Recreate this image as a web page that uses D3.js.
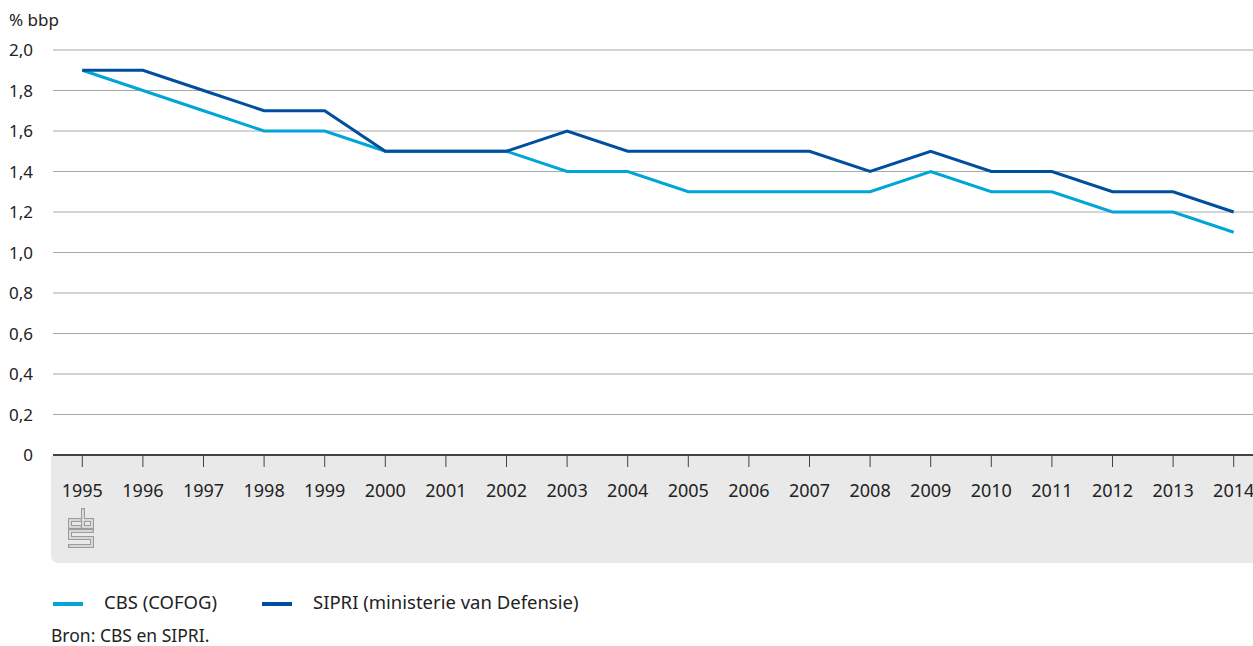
<!DOCTYPE html>
<html>
<head>
<meta charset="utf-8">
<script src="https://cdn.jsdelivr.net/npm/d3@7"></script>
<style>
  body { margin: 0; background: #fff; font-family: "Noto Sans", "Open Sans", sans-serif; }
  svg text { fill: #222; }
</style>
</head>
<body>
<div id="chart"></div>
<script>
const years = ['1995','1996','1997','1998','1999','2000','2001','2002','2003','2004',
               '2005','2006','2007','2008','2009','2010','2011','2012','2013','2014'];
const cbs = [1.9, 1.8, 1.7, 1.6, 1.6, 1.5, 1.5, 1.5, 1.4, 1.4, 1.3, 1.3, 1.3, 1.3, 1.4, 1.3, 1.3, 1.2, 1.2, 1.1];
const sipri = [1.9, 1.9, 1.8, 1.7, 1.7, 1.5, 1.5, 1.5, 1.6, 1.5, 1.5, 1.5, 1.5, 1.4, 1.5, 1.4, 1.4, 1.3, 1.3, 1.2];
const yTicks = [0, 0.2, 0.4, 0.6, 0.8, 1.0, 1.2, 1.4, 1.6, 1.8, 2.0];
const seriesNames = ['CBS (COFOG)', 'SIPRI (ministerie van Defensie)'];
const colors = ['#00a6d6', '#004f9f'];

const width = 1253, height = 646;
const svg = d3.select('#chart').append('svg')
  .attr('width', width).attr('height', height);

const x = d3.scalePoint().domain(years).range([52, 1264]).padding(0.5);
const y = d3.scaleLinear().domain([0, 2]).range([455, 50]);

// grey panel under the axis
svg.append('path')
  .attr('d', 'M51,456 H1253 V563 H59 Q51,563 51,555 Z')
  .attr('fill', '#e9e9e9');

// gridlines
svg.append('g')
  .selectAll('line')
  .data(yTicks.filter(d => d > 0))
  .join('line')
  .attr('x1', 53).attr('x2', width)
  .attr('y1', d => y(d)).attr('y2', d => y(d))
  .attr('stroke', '#a8a8a8').attr('stroke-width', 1);

// y labels
svg.append('g')
  .selectAll('text')
  .data(yTicks)
  .join('text')
  .attr('x', 33).attr('y', d => y(d))
  .attr('dy', '0.36em')
  .attr('text-anchor', 'end')
  .style('font-size', '17px')
  .text(d => d === 0 ? '0' : d.toFixed(1).replace('.', ','));

svg.append('text')
  .attr('x', 9).attr('y', 26)
  .style('font-size', '17px')
  .text('% bbp');

// x axis
svg.append('line')
  .attr('x1', 53).attr('x2', width)
  .attr('y1', 455).attr('y2', 455)
  .attr('stroke', '#444').attr('stroke-width', 2);

const xg = svg.append('g');
xg.selectAll('line')
  .data(years)
  .join('line')
  .attr('x1', d => x(d)).attr('x2', d => x(d))
  .attr('y1', 456).attr('y2', 467)
  .attr('stroke', '#444').attr('stroke-width', 1);
xg.selectAll('text')
  .data(years)
  .join('text')
  .attr('x', d => x(d)).attr('y', 497)
  .attr('text-anchor', 'middle')
  .style('font-size', '18px')
  .text(d => d);

// cbs logo: thick grey stroke with a thin panel-coloured core gives the outline look
const logoPaths = [
  'M80,520 H70 V527 H80',
  'M83,510 V527 H92 V520 H83',
  'M92,531 H70 V538 H92 V546 H70'
];
const logo = svg.append('g').attr('fill', 'none').attr('stroke-linejoin', 'miter').attr('stroke-linecap', 'square');
logo.selectAll('path.o').data(logoPaths).join('path').attr('class', 'o')
  .attr('d', d => d).attr('stroke', '#9c9c9c').attr('stroke-width', 4);
logo.selectAll('path.i').data(logoPaths).join('path').attr('class', 'i')
  .attr('d', d => d).attr('stroke', '#e9e9e9').attr('stroke-width', 1.6);

// lines
const line = d3.line().x((d, i) => x(years[i])).y(d => y(d));
[cbs, sipri].forEach((s, k) => {
  svg.append('path')
    .datum(s)
    .attr('d', line)
    .attr('fill', 'none')
    .attr('stroke', colors[k])
    .attr('stroke-width', 3)
    .attr('stroke-linejoin', 'miter');
});

// legend
const legX = [53, 262];
const leg = svg.append('g');
seriesNames.forEach((n, k) => {
  leg.append('line')
    .attr('x1', legX[k]).attr('x2', legX[k] + 30)
    .attr('y1', 604).attr('y2', 604)
    .attr('stroke', colors[k]).attr('stroke-width', 4);
  leg.append('text')
    .attr('x', legX[k] + 51).attr('y', 609)
    .style('font-size', '18.5px')
    .text(n);
});

svg.append('text')
  .attr('x', 51).attr('y', 642)
  .style('font-size', '17.5px')
  .text('Bron: CBS en SIPRI.');
</script>
</body>
</html>
